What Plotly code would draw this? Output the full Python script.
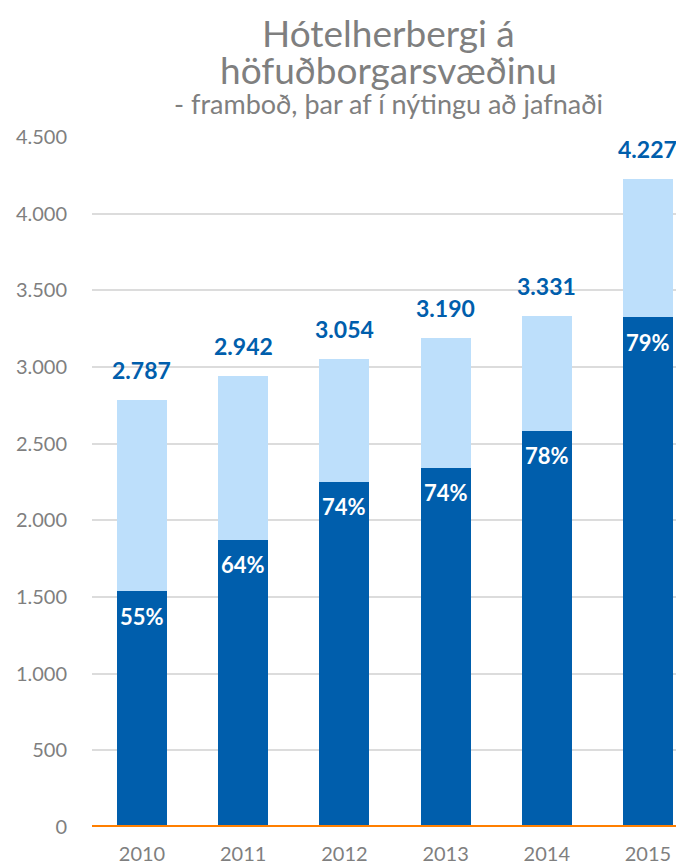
import plotly.graph_objects as go

years = ["2010", "2011", "2012", "2013", "2014", "2015"]
total_rooms = [2787, 2942, 3054, 3190, 3331, 4227]
occupied_rooms = [1538, 1872, 2251, 2343, 2585, 3325]
occupancy = ["55%", "64%", "74%", "74%", "78%", "79%"]
total_labels = ["2.787", "2.942", "3.054", "3.190", "3.331", "4.227"]
y_ticks = [0, 500, 1000, 1500, 2000, 2500, 3000, 3500, 4000, 4500]
y_tick_text = ["0", "500", "1.000", "1.500", "2.000", "2.500", "3.000", "3.500", "4.000", "4.500"]

free_rooms = [t - o for t, o in zip(total_rooms, occupied_rooms)]

FONT = "Lato"
DARK = "#005EAC"
LIGHT = "#BDDFFB"
GREY = "#7F7F7F"

fig = go.Figure()
fig.add_trace(go.Bar(x=years, y=occupied_rooms, marker_color=DARK, marker_line_width=0,
                     hoverinfo="skip"))
fig.add_trace(go.Bar(x=years, y=free_rooms, marker_color=LIGHT, marker_line_width=0,
                     hoverinfo="skip"))

# labels: x as category index, strings like "2010" get read as numbers
for i in range(len(years)):
    fig.add_annotation(x=i, y=total_rooms[i], text="<b>" + total_labels[i] + "</b>",
                       showarrow=False, yanchor="middle", yshift=30,
                       font=dict(family=FONT, size=23, color=DARK))
    fig.add_annotation(x=i, y=occupied_rooms[i], text="<b>" + occupancy[i] + "</b>",
                       showarrow=False, yanchor="middle", yshift=-25,
                       font=dict(family=FONT, size=22, color="white"))

fig.add_shape(type="line", xref="paper", x0=0, x1=1, yref="y", y0=0, y1=0,
              line=dict(color="#FF7F00", width=4))

# title lines (page has an 8px body margin, so figure is 8px smaller)
fig.add_annotation(text="Hótelherbergi á", xref="paper", yref="paper", x=0.5, y=1,
                   xanchor="center", yanchor="middle", yshift=105, showarrow=False,
                   font=dict(family=FONT, size=37, color=GREY))
fig.add_annotation(text="höfuðborgarsvæðinu", xref="paper", yref="paper", x=0.5, y=1,
                   xanchor="center", yanchor="middle", yshift=68, showarrow=False,
                   font=dict(family=FONT, size=37, color=GREY))
fig.add_annotation(text="- framboð, þar af í nýtingu að jafnaði", xref="paper", yref="paper",
                   x=0.5, y=1, xanchor="center", yanchor="middle", yshift=34, showarrow=False,
                   font=dict(family=FONT, size=27, color=GREY))

fig.update_layout(
    barmode="stack", bargap=0.506, showlegend=False,
    width=676, height=860, margin=dict(l=84, r=0, t=129, b=41),
    plot_bgcolor="white", paper_bgcolor="white",
    font=dict(family=FONT, color=GREY),
    xaxis=dict(type="category", range=[-0.494, 5.356], tickfont=dict(size=20, color=GREY),
               showgrid=False, ticks="", showline=False, ticklabelstandoff=13,
               automargin=False),
    yaxis=dict(range=[0, 4500], tickvals=y_ticks, ticktext=y_tick_text,
               tickfont=dict(size=20, color=GREY), gridcolor="#DCDCDC", gridwidth=1.5,
               zeroline=False, ticks="", ticklabelstandoff=24, automargin=False),
)

fig.write_html("out.html")
